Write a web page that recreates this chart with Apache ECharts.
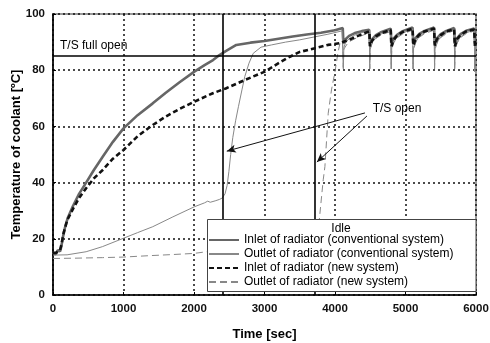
<!DOCTYPE html>
<html><head><meta charset="utf-8">
<script src="https://cdn.jsdelivr.net/npm/echarts@6/dist/echarts.min.js"></script>
<style>html,body{margin:0;padding:0;background:#fff}#c{width:490px;height:343px}</style>
</head><body><div id="c"></div>
<script>
// ---- data (time [sec], temperature [ºC]) ----
const seriesNames = [
  'Inlet of radiator (conventional system)',
  'Outlet of radiator (conventional system)',
  'Inlet of radiator (new system)',
  'Outlet of radiator (new system)'
];
const inletConventional = [[0,15],[40,14.5],[70,16],[100,15.5],[120,17.5],[140,20.5],[170,24],[210,27.5],[280,31.5],[370,36],[470,40],[580,44.5],[705,49.2],[850,54.5],[1000,59.3],[1200,64],[1415,68.2],[1600,72],[1800,75.8],[2005,79.5],[2150,81.8],[2270,83.6],[2340,85],[2450,86.8],[2600,89],[2800,89.8],[3000,90.4],[3200,91.2],[3400,92],[3600,92.7],[3800,93.3],[4000,94.2],[4110,95],
  [4120,89.5],[4150,91],[4200,92.2],[4280,93.2],[4380,93.9],[4485,94.4],[4495,89.5],[4525,91],[4580,92.5],[4660,93.6],[4790,94.8],[4800,89.5],[4830,91.2],[4880,92.6],[4960,93.9],[5100,95.2],[5110,89.5],[5140,91.3],[5190,92.8],[5270,94],[5405,95.2],[5415,89.5],[5445,91.3],[5500,92.8],[5580,94],[5690,95],[5700,89.3],[5730,91.3],[5780,92.8],[5860,94],[5975,94.8],[5985,89.5],[6000,90.5]];
const outletConventional = [[0,14.2],[200,14.3],[470,15.4],[700,17.2],[1000,20.2],[1200,22.2],[1415,24.3],[1700,27.8],[2005,31.4],[2150,32.8],[2195,33.4],[2230,33],[2300,33.5],[2360,34],[2400,34.5],[2440,36],[2470,39],[2495,44],[2520,50],[2550,56],[2590,62],[2630,67],[2680,73],[2720,77.7],[2780,82.5],[2840,86],[2950,88.2],[3100,89],[3300,90],[3500,90.8],[3700,91.8],[3900,92.8],[4100,94],[4112,94.3],
  [4118,80.5],[4125,88],[4150,89.8],[4200,91.2],[4280,92.5],[4380,93.4],[4488,94],[4492,80.5],[4500,88],[4530,90],[4580,91.6],[4660,92.9],[4792,94.3],[4797,80.5],[4805,88],[4835,90],[4880,91.8],[4960,93.2],[5102,94.7],[5107,80.5],[5115,88],[5145,90],[5190,91.9],[5270,93.3],[5408,94.7],[5412,80.5],[5420,88],[5450,90],[5500,91.9],[5580,93.3],[5693,94.5],[5697,80.5],[5705,88],[5735,90],[5780,91.9],[5860,93.3],[5978,94.3],[5982,79.5],[5990,87],[6000,89]];
const inletNew = [[0,15],[40,15],[70,15.5],[100,16],[120,18],[150,22],[200,26.5],[280,30.5],[370,34.5],[470,38],[580,41.5],[705,44.5],[850,48.5],[1000,51.6],[1200,56.5],[1415,60.5],[1600,63.5],[1800,66.3],[2005,68.8],[2267,71.8],[2450,73.5],[2720,76.5],[3005,79.5],[3200,82.5],[3360,84.8],[3500,86.5],[3715,87.8],[3900,89],[4070,89.6],[4110,90],[4190,90.7],[4306,92],[4400,93],[4488,93.8],
  [4495,88.5],[4525,90.5],[4580,92],[4660,93.2],[4790,94.3],[4800,88.5],[4830,90.7],[4880,92.3],[4960,93.6],[5100,94.8],[5110,88.8],[5140,91],[5190,92.5],[5270,93.8],[5405,94.8],[5415,88.8],[5445,91],[5500,92.5],[5580,93.8],[5690,94.6],[5700,88.5],[5730,91],[5780,92.5],[5860,93.8],[5975,94.5],[5985,88.5],[6000,90]];
const outletNew = [[0,13],[300,13.1],[700,13.3],[1000,13.5],[1370,14],[1700,14.4],[2000,14.8],[2180,15.4],[2500,15.6],[3000,15.8],[3500,16],[3700,16.3],[3750,20],[3786,29],[3833,41],[3857,45.7],[3904,64.7],[3950,73],[4000,79.5],[4040,86],[4070,89.6],[4110,90.5],
  [4118,81],[4125,87.5],[4190,90],[4306,91.5],[4400,92.5],[4488,93.3],[4493,80.5],[4500,87.5],[4530,89.8],[4580,91.3],[4660,92.6],[4792,93.8],[4797,80.5],[4805,87.5],[4835,89.8],[4880,91.5],[4960,92.9],[5102,94.3],[5107,80.5],[5115,87.5],[5145,89.8],[5190,91.6],[5270,93],[5408,94.3],[5412,80.5],[5420,87.5],[5450,89.8],[5500,91.6],[5580,93],[5693,94.2],[5697,80.5],[5705,87.5],[5735,89.8],[5780,91.6],[5860,93],[5978,94],[5982,79.5],[5990,86.5],[6000,88.5]];

const tsOpenTimes = [2410, 3715];       // thermostat opening times
const tsFullOpenTemp = 85;              // T/S full open level
const arrowStart = [[4425,64.8],[4453,63.7]];
const arrowEnd = [[2465,51.2],[3743,47.3]];
const tsOpenLabelPos = [4880,66.2];

const FONT = 'Liberation Sans, Arial, sans-serif';
const chart = echarts.init(document.getElementById('c'), null, {renderer:'canvas'});
const gridLine = {show:true, lineStyle:{color:'#111', type:[2,3], width:1.5}};
const plain = v => String(v);

chart.setOption({
  animation:false,
  backgroundColor:'#fff',
  grid:{left:53, right:14, top:14, bottom:48, outerBoundsMode:'none', containLabel:false,
    show:true, borderColor:'#999', borderWidth:2, backgroundColor:'transparent'},
  xAxis:{type:'value', min:0, max:6000, interval:1000,
    name:'Time [sec]', nameLocation:'middle', nameGap:33,
    nameTextStyle:{fontFamily:FONT, fontSize:13, fontWeight:'bold', color:'#000'},
    axisLine:{show:true, onZero:false, lineStyle:{color:'#000', width:1.6}},
    axisTick:{show:true, inside:true, length:3, lineStyle:{color:'#000'}},
    axisLabel:{fontFamily:FONT, fontSize:11.5, fontWeight:'bold', color:'#111', margin:8, formatter:plain},
    splitLine:gridLine},
  yAxis:{type:'value', min:0, max:100, interval:20,
    name:'Temperature of coolant [ºC]', nameLocation:'middle', nameGap:30, nameMoveOverlap:false,
    nameTextStyle:{fontFamily:FONT, fontSize:13, fontWeight:'bold', color:'#000'},
    axisLine:{show:true, onZero:false, lineStyle:{color:'#000', width:1.6}},
    axisTick:{show:true, inside:true, length:3, lineStyle:{color:'#000'}},
    axisLabel:{fontFamily:FONT, fontSize:11.5, fontWeight:'bold', color:'#111', margin:8, formatter:plain},
    splitLine:gridLine},
  legend:{data:seriesNames, orient:'vertical', left:208, top:234, itemWidth:30, itemHeight:12, itemGap:2, z:30,
    itemStyle:{opacity:0},
    textStyle:{fontFamily:FONT, fontSize:12, color:'#000'}, padding:0, selectedMode:false},
  graphic:[
    {type:'rect', x:207.5, y:219.5, shape:{width:268.5, height:72}, style:{fill:'#fff', stroke:'#444', lineWidth:1}, z:10},
    {type:'text', x:341, y:223, style:{text:'Idle', font:'12px '+FONT, fill:'#000', textAlign:'center'}, z:11}
  ],
  series:[
    {name:seriesNames[0], type:'line', data:inletConventional, symbol:'none', z:3,
      lineStyle:{color:'#666', width:2.6}, itemStyle:{color:'#666'}},
    {name:seriesNames[1], type:'line', data:outletConventional, symbol:'none', z:4,
      lineStyle:{color:'#888', width:1}, itemStyle:{color:'#888'}},
    {name:seriesNames[2], type:'line', data:inletNew, symbol:'none', z:5,
      lineStyle:{color:'#111', width:2.6, type:[5,3]}, itemStyle:{color:'#111'}},
    {name:seriesNames[3], type:'line', data:outletNew, symbol:'none', z:4,
      lineStyle:{color:'#888', width:1, type:[7,4]}, itemStyle:{color:'#888'}},
    {name:'refLines', type:'line', data:[], z:2,
      markLine:{silent:true, symbol:['none','none'], animation:false,
        lineStyle:{color:'#000', width:1.6, type:'solid'},
        label:{show:false},
        data:[
          {xAxis:tsOpenTimes[0]}, {xAxis:tsOpenTimes[1]},
          {yAxis:tsFullOpenTemp, label:{show:true, position:'insideStartTop', formatter:'T/S full open', fontFamily:FONT, fontSize:12, color:'#000', distance:[7,4]}}
        ]}},
    {name:'arrows', type:'line', data:[], z:6,
      markLine:{silent:true, symbol:['none','arrow'], symbolSize:[6,9], animation:false,
        lineStyle:{color:'#111', width:1, type:'solid'}, label:{show:false},
        data:[
          [{coord:arrowStart[0]},{coord:arrowEnd[0]}],
          [{coord:arrowStart[1]},{coord:arrowEnd[1]}]
        ]},
      markPoint:{silent:true, symbol:'rect', symbolSize:1, itemStyle:{color:'transparent'},
        label:{show:true, position:'inside', formatter:'T/S open', fontFamily:FONT, fontSize:12, color:'#000'},
        data:[{coord:tsOpenLabelPos}]}}
  ]
});
</script></body></html>
